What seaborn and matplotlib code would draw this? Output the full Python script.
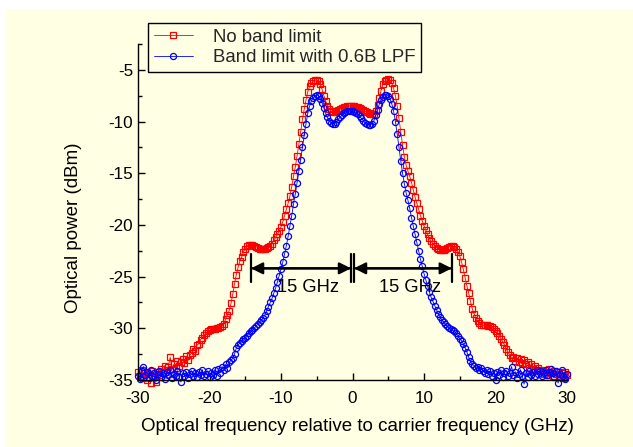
import numpy as np
import matplotlib
matplotlib.use("Agg")
import matplotlib.pyplot as plt
from matplotlib.ticker import MultipleLocator
from matplotlib.patches import Rectangle
import seaborn as sns

# ---------------- data ----------------
freq_start = -30.0
freq_step = 0.25

power_no_limit = [
    -34.2, -34.6, -34.0, -34.8, -34.3, -35.0, -34.4, -35.3,
    -34.1, -34.7, -35.2, -34.2, -34.5, -33.9, -34.3, -33.6,
    -34.0, -33.7, -32.8, -33.9, -33.5, -33.8, -33.2, -33.6,
    -33.3, -33.0, -33.4, -32.7, -33.1, -32.6, -32.4, -32.0,
    -32.2, -31.6, -31.5, -31.1, -30.9, -30.6, -30.5, -30.3,
    -30.2, -30.1, -30.1, -30.1, -30.0, -30.0, -29.9, -29.8,
    -29.6, -29.1, -28.7, -28.3, -27.6, -26.7, -25.7, -24.8,
    -24.1, -23.5, -23.1, -22.6, -22.3, -22.0, -21.9, -21.9,
    -21.9, -22.0, -22.1, -22.2, -22.3, -22.3, -22.3, -22.3,
    -22.2, -22.1, -22.0, -21.8, -21.5, -21.2, -20.9, -20.6,
    -20.2, -19.7, -19.1, -18.5, -17.9, -17.2, -16.3, -15.3,
    -14.4, -13.3, -12.2, -11.0, -9.8, -8.8, -7.9, -7.1,
    -6.6, -6.3, -6.1, -6.0, -6.0, -6.1, -6.4, -6.9,
    -7.5, -8.0, -8.5, -8.8, -9.0, -9.1, -9.1, -9.0,
    -8.9, -8.8, -8.7, -8.6, -8.6, -8.5, -8.5, -8.5,
    -8.5, -8.5, -8.6, -8.6, -8.7, -8.8, -8.9, -9.0,
    -9.1, -9.2, -9.3, -9.3, -9.3, -9.0, -8.4, -7.7,
    -7.0, -6.4, -6.1, -6.0, -5.9, -6.0, -6.3, -6.8,
    -7.5, -8.5, -9.7, -11.0, -12.3, -13.4, -14.2, -14.8,
    -15.3, -15.9, -16.6, -17.3, -17.9, -18.5, -19.1, -19.6,
    -20.1, -20.5, -20.9, -21.3, -21.6, -21.8, -22.0, -22.2,
    -22.3, -22.4, -22.4, -22.4, -22.3, -22.2, -22.1, -22.0,
    -22.0, -22.1, -22.3, -22.6, -23.0, -23.6, -24.3, -25.1,
    -25.9, -26.6, -27.4, -28.1, -28.6, -29.0, -29.3, -29.5,
    -29.7, -29.7, -29.7, -29.7, -29.8, -29.8, -29.9, -30.1,
    -30.3, -30.5, -30.7, -31.0, -31.3, -31.6, -32.0, -32.3,
    -32.6, -32.9, -32.8, -33.2, -32.9, -33.3, -33.0, -33.4,
    -33.1, -33.5, -33.3, -33.8, -33.5, -33.9, -33.6, -34.0,
    -33.8, -34.1, -34.0, -34.4, -34.2, -34.5, -33.9, -34.3,
    -34.6, -34.1, -34.4, -34.2, -34.6, -34.3, -34.8, -34.2,
    -34.5,
]

power_lpf = [
    -34.6, -34.9, -34.1, -33.7, -34.5, -34.2, -34.8, -34.0,
    -34.6, -34.3, -35.0, -34.4, -34.1, -34.7, -34.3, -34.9,
    -34.2, -34.5, -34.0, -34.8, -34.4, -34.6, -34.1, -34.7,
    -35.2, -34.3, -34.6, -34.2, -34.8, -34.4, -34.1, -34.6,
    -34.3, -34.7, -34.2, -34.5, -34.0, -34.6, -34.4, -34.1,
    -34.7, -34.3, -34.5, -34.0, -34.6, -33.9, -34.3, -33.7,
    -34.0, -33.5, -33.8, -33.3, -33.1, -32.9, -32.5, -31.9,
    -31.6, -31.4, -31.2, -31.0, -30.9, -30.7, -30.5, -30.3,
    -30.2, -30.0, -29.8, -29.6, -29.4, -29.2, -29.0, -28.7,
    -28.3, -27.9, -27.5, -27.1, -26.6, -26.1, -25.5, -24.9,
    -24.3, -23.6, -22.8, -22.0, -21.1, -20.1, -19.1, -18.0,
    -17.0, -15.9, -14.8, -13.7, -12.5, -11.3, -10.2, -9.2,
    -8.5, -8.0, -7.7, -7.5, -7.4, -7.5, -7.8, -8.2,
    -8.7, -9.2, -9.6, -9.9, -10.1, -10.2, -10.2, -10.0,
    -9.8, -9.6, -9.4, -9.2, -9.1, -9.0, -9.0, -9.0,
    -9.0, -9.1, -9.2, -9.3, -9.5, -9.7, -9.9, -10.1,
    -10.2, -10.3, -10.3, -10.2, -9.9, -9.4, -8.9, -8.3,
    -7.9, -7.6, -7.4, -7.4, -7.5, -7.8, -8.3, -9.0,
    -10.0, -11.2, -12.5, -13.8, -15.0, -16.0, -16.9, -17.6,
    -18.4, -19.3, -20.1, -20.9, -21.7, -22.5, -23.3, -24.0,
    -24.7, -25.3, -25.9, -26.5, -27.0, -27.4, -27.8, -28.2,
    -28.6, -28.9, -29.2, -29.4, -29.6, -29.8, -30.0, -30.1,
    -30.2, -30.3, -30.5, -30.7, -31.0, -31.2, -31.5, -31.9,
    -32.3, -32.8, -33.2, -33.5, -33.6, -33.8, -33.7, -34.0,
    -33.8, -34.1, -34.3, -34.0, -34.4, -34.1, -34.6, -34.3,
    -35.0, -34.2, -34.5, -34.0, -34.7, -34.3, -34.1, -34.6,
    -34.3, -33.7, -34.5, -34.2, -34.8, -34.4, -34.0, -34.6,
    -35.4, -34.3, -34.7, -34.1, -34.5, -34.2, -34.6, -34.0,
    -34.4, -34.1, -34.6, -34.3, -34.0, -34.5, -34.2, -33.9,
    -34.3, -34.7, -34.1, -35.3, -34.4, -34.0, -34.6, -34.9,
    -34.4,
]

series_labels = ["No band limit", "Band limit with 0.6B LPF"]
x_ticks = [-30, -20, -10, 0, 10, 20, 30]
y_ticks = [-35, -30, -25, -20, -15, -10, -5]
x_label = "Optical frequency relative to carrier frequency (GHz)"
y_label = "Optical power (dBm)"
span_text = "15 GHz"
span_left = (-14.2, -0.2)
span_right = (0.2, 13.9)
span_y = -24.2
span_text_left = (-6.2, -26.5)
span_text_right = (8.1, -26.5)

# ---------------- styling ----------------
BG = "#FFFFE3"
sns.set_theme(style="ticks")
plt.rcParams["font.family"] = ["Liberation Sans", "DejaVu Sans"]
plt.rcParams["axes.unicode_minus"] = False

n = len(power_no_limit)
assert len(power_lpf) == n
freq = np.round(freq_start + freq_step * np.arange(n), 3)

W, H = 633, 447
fig = plt.figure(figsize=(W / 100, H / 100), dpi=100)
fig.patch.set_facecolor("white")
fig.patches.append(Rectangle((6 / W, 0), 1 - 6 / W, 1 - 9 / H,
                             transform=fig.transFigure, facecolor=BG,
                             edgecolor="none", zorder=-10))
ax = fig.add_axes([138 / W, 67 / H, 429 / W, 336 / H])
ax.patch.set_alpha(0)

sns.lineplot(x=freq, y=power_no_limit, ax=ax, color="red", lw=0.6,
             marker="s", markersize=4.2, markerfacecolor="none",
             markeredgecolor="red", markeredgewidth=0.9, clip_on=False,
             legend=False)
sns.lineplot(x=freq, y=power_lpf, ax=ax, color="blue", lw=0.6,
             marker="o", markersize=4.4, markerfacecolor="none",
             markeredgecolor="blue", markeredgewidth=0.9, clip_on=False,
             legend=False)

ax.set_xlim(-30, 30)
ax.set_ylim(-35, -2.5)
ax.set_xticks(x_ticks)
ax.set_yticks(y_ticks)
ax.xaxis.set_minor_locator(MultipleLocator(5))
ax.yaxis.set_minor_locator(MultipleLocator(2.5))
sns.despine(ax=ax)
for s in ("left", "bottom"):
    ax.spines[s].set_color("black")
    ax.spines[s].set_linewidth(1.0)
ax.tick_params(which="major", direction="in", length=5, width=1.0,
               color="black", labelsize=12.3, labelcolor="black")
ax.tick_params(which="minor", direction="in", length=3, width=1.0,
               color="black")
ax.tick_params(axis="x", which="both", pad=8)
ax.tick_params(axis="y", which="both", pad=3.5)

ax.set_xlabel(x_label, fontsize=13.5, color="black")
ax.set_ylabel(y_label, fontsize=13.5, color="black")
ax.xaxis.set_label_coords(0.512, -0.113)
ax.yaxis.set_label_coords(-0.1305, 0.452)

handles = ax.get_lines()[:2]
leg = ax.legend(handles=handles, labels=series_labels, loc="upper left",
                bbox_to_anchor=(148 / W, 1 - 23 / H),
                bbox_transform=fig.transFigure, frameon=True,
                fancybox=False, edgecolor="black", facecolor=BG,
                framealpha=1, fontsize=13.4, handlelength=2.1,
                handletextpad=1.1, borderpad=0.3, labelspacing=0.2,
                borderaxespad=0, numpoints=1)
leg.get_frame().set_linewidth(1.0)

for (a, b) in (span_left, span_right):
    ax.annotate("", xy=(a, span_y), xytext=(b, span_y),
                arrowprops=dict(arrowstyle="<|-|>,head_length=0.5,head_width=0.25",
                                color="black", lw=1.6, shrinkA=0, shrinkB=0,
                                mutation_scale=14))
    ax.annotate("", xy=(a, span_y), xytext=(b, span_y),
                arrowprops=dict(arrowstyle="|-|,widthA=1.0,widthB=1.0",
                                color="black", lw=1.6, shrinkA=0, shrinkB=0,
                                mutation_scale=10))
for (tx, ty) in (span_text_left, span_text_right):
    ax.text(tx, ty, span_text, ha="center", va="baseline", fontsize=13.2,
            color="black")

fig.savefig("out.png", dpi=100, facecolor=fig.get_facecolor())
